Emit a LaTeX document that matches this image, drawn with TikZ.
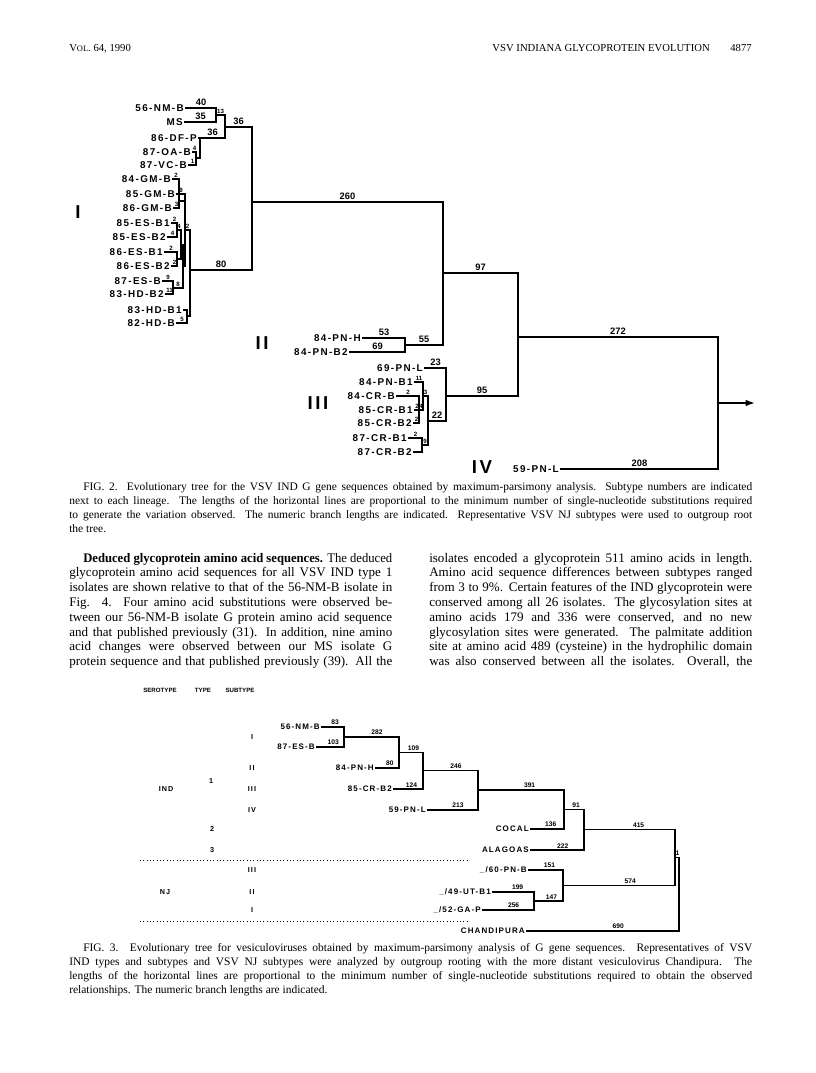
\documentclass[tikz,border=0pt]{standalone}
\usepackage{fontspec}
\usepackage{graphicx}
\setmainfont{Liberation Serif}
\newfontfamily\vsvSans[LetterSpace=14]{Liberation Sans}
\newfontfamily\vsvSansTight{Liberation Sans}
\usetikzlibrary{arrows.meta}

% one printed line of a justified column
\newsavebox\vsvLineBox
\newcommand\vsvLine[2]{%
  \sbox\vsvLineBox{#2}%
  \ifdim\wd\vsvLineBox>#1\relax
    \resizebox{#1}{\ht\vsvLineBox}{\usebox\vsvLineBox}%
  \else
    \makebox[#1][s]{#2}%
  \fi}

\tikzset{
  vsvBranch/.style={line width=1.25pt, line cap=rect},
  vsvBranchS/.style={line width=0.95pt, line cap=rect},
  vsvLeaf/.style={anchor=east, inner sep=1.5pt, font=\vsvSans\bfseries\fontsize{7.4}{8}\selectfont},
  vsvLen/.style={above, pos=.25, inner sep=1.2pt, font=\vsvSansTight\bfseries\fontsize{7}{8}\selectfont},
  vsvTiny/.style={above, pos=.25, inner sep=0.3pt, font=\vsvSansTight\bfseries\fontsize{4.6}{5}\selectfont},
  vsvRoman/.style={inner sep=0pt, font=\vsvSans\bfseries\fontsize{14}{14}\selectfont},
  vsvLeafS/.style={anchor=east, inner sep=1.5pt, font=\vsvSans\bfseries\fontsize{6}{7}\selectfont},
  vsvLenS/.style={above, pos=.3, inner sep=1pt, font=\vsvSansTight\bfseries\fontsize{5}{6}\selectfont},
  vsvKey/.style={inner sep=0pt, font=\vsvSans\bfseries\fontsize{5.4}{6}\selectfont},
  vsvKeyHead/.style={inner sep=0pt, font=\vsvSansTight\bfseries\fontsize{4.6}{5}\selectfont},
  vsvSep/.style={dotted, line width=0.5pt},
  vsvText/.style={anchor=base west, inner sep=0pt, font=\fontsize{9.8}{12}\selectfont},
  vsvCap/.style={anchor=base west, inner sep=0pt, font=\fontsize{8.6}{10}\selectfont},
  vsvHead/.style={anchor=base west, inner sep=0pt, font=\fontsize{8}{10}\selectfont}
}

\begin{document}
\begin{tikzpicture}[x=0.75pt, y=-0.75pt]
  \fill[white] (0,0) rectangle (816,1073);
  \useasboundingbox (0,0) rectangle (816,1073);

  % running head
  \node[vsvHead] (headVol) at (69,52) {V{\fontsize{6.3}{8}\selectfont OL}. 64, 1990};
  \node[vsvHead, anchor=base east] (headTitle) at (710,52) {VSV INDIANA GLYCOPROTEIN EVOLUTION};
  \node[vsvHead, anchor=base east] (headPage) at (752,52) {4877};

  % ---------------- FIG. 2 ----------------
  \node[vsvRoman] (romI) at (78,212) {I};
  \node[vsvRoman] (romII) at (262,343) {II};
  \node[vsvRoman] (romIII) at (318,403) {III};
  \node[vsvRoman] (romIV) at (482,467) {IV};

  \node[vsvLeaf] (t56nm) at (186,108) {56-NM-B};
  \node[vsvLeaf] (tms) at (185,122) {MS};
  \node[vsvLeaf] (t86df) at (199,138) {86-DF-P};
  \node[vsvLeaf] (t87oa) at (193,152) {87-OA-B};
  \node[vsvLeaf] (t87vc) at (189,165) {87-VC-B};
  \node[vsvLeaf] (t84gm) at (173,179) {84-GM-B};
  \node[vsvLeaf] (t85gm) at (177,194) {85-GM-B};
  \node[vsvLeaf] (t86gm) at (174,208) {86-GM-B};
  \node[vsvLeaf] (t85es1) at (172,223) {85-ES-B1};
  \node[vsvLeaf] (t85es2) at (168,237) {85-ES-B2};
  \node[vsvLeaf] (t86es1) at (165,252) {86-ES-B1};
  \node[vsvLeaf] (t86es2) at (172,266) {86-ES-B2};
  \node[vsvLeaf] (t87es) at (163,281) {87-ES-B};
  \node[vsvLeaf] (t83hd2) at (166,294) {83-HD-B2};
  \node[vsvLeaf] (t83hd1) at (184,310) {83-HD-B1};
  \node[vsvLeaf] (t82hd) at (177,323) {82-HD-B};
  \node[vsvLeaf] (t84pnh) at (363,338) {84-PN-H};
  \node[vsvLeaf] (t84pnb2) at (350,352) {84-PN-B2};
  \node[vsvLeaf] (t69pnl) at (425,368) {69-PN-L};
  \node[vsvLeaf] (t84pnb1) at (415,382) {84-PN-B1};
  \node[vsvLeaf] (t84crb) at (397,396) {84-CR-B};
  \node[vsvLeaf] (t85crb1) at (415,410) {85-CR-B1};
  \node[vsvLeaf] (t85crb2) at (414,423) {85-CR-B2};
  \node[vsvLeaf] (t87crb1) at (409,438) {87-CR-B1};
  \node[vsvLeaf] (t87crb2) at (414,452) {87-CR-B2};
  \node[vsvLeaf] (t59pnl) at (561,469) {59-PN-L};

  \coordinate (a1) at (216,115);
  \coordinate (a3) at (196,158);
  \coordinate (a4) at (200,138);
  \coordinate (a5) at (225,127);
  \coordinate (a6) at (252,202);
  \coordinate (g1) at (179,201);
  \coordinate (es1) at (177,230);
  \coordinate (es2) at (177,259);
  \coordinate (es3) at (181,245);
  \coordinate (es4) at (173,288);
  \coordinate (b2) at (183,266);
  \coordinate (b1) at (185,230);
  \coordinate (hd) at (187,316);
  \coordinate (b0) at (190,270);
  \coordinate (c1) at (443,273);
  \coordinate (d1) at (405,345);
  \coordinate (c2) at (518,337);
  \coordinate (f1) at (419,410);
  \coordinate (f2) at (423,396);
  \coordinate (f3) at (422,445);
  \coordinate (f4) at (428,421);
  \coordinate (e0) at (446,396);
  \coordinate (r0) at (718,403);
  \coordinate (rootTip) at (755,403);

  \foreach \a/\b/\l in {t56nm/a1/40, tms/a1/35, a4/a5/36, a5/a6/36, b0/a6/80, a6/c1/260,
      t84pnh/d1/53, t84pnb2/d1/69, d1/c1/55, c1/c2/97, t69pnl/e0/23, f4/e0/22, e0/c2/95,
      c2/r0/272, t59pnl/r0/208}
    \draw[vsvBranch] (\a) -| node[vsvLen]{\l} (\b);
  \foreach \a/\b/\l in {t86df/a4/{}, t87oa/a3/4, t87vc/a3/1, a3/a4/{}, a1/a5/13,
      t84gm/g1/2, t86gm/g1/3, g1/b1/{}, t85gm/b1/9,
      t85es1/es1/2, t85es2/es1/4, es1/es3/4, t86es1/es2/2, t86es2/es2/2, es2/es3/{},
      t87es/es4/9, t83hd2/es4/11, es3/b2/{}, es4/b2/8, b2/b1/2, b1/b0/2,
      t83hd1/hd/{}, t82hd/hd/5, hd/b0/{},
      t84crb/f1/2, t85crb1/f1/2, t85crb2/f1/2, t84pnb1/f2/11, f1/f2/4,
      t87crb1/f3/2, t87crb2/f3/{}, f2/f4/3, f3/f4/9}
    \draw[vsvBranch] (\a) -| node[vsvTiny]{\l} (\b);
  \draw[vsvBranch, -{Latex[length=7pt, width=5pt]}] (r0) -- (rootTip);

  % caption of FIG. 2
  \node[vsvCap] (capTwoA) at (83,490) {\vsvLine{501.75pt}{FIG. 2. Evolutionary tree for the VSV IND G gene sequences obtained by maximum-parsimony analysis. Subtype numbers are indicated}};
  \node[vsvCap] (capTwoB) at (69,504) {\vsvLine{512.25pt}{next to each lineage. The lengths of the horizontal lines are proportional to the minimum number of single-nucleotide substitutions required}};
  \node[vsvCap] (capTwoC) at (69,518) {\vsvLine{512.25pt}{to generate the variation observed. The numeric branch lengths are indicated. Representative VSV NJ subtypes were used to outgroup root}};
  \node[vsvCap] (capTwoD) at (69,532) {the tree.};

  % body text, two columns
  \node[vsvText] (bodyL1) at (83,562) {\vsvLine{231.75pt}{\textbf{Deduced glycoprotein amino acid sequences.} The deduced}};
  \foreach \txt [count=\i from 2] in {{glycoprotein amino acid sequences for all VSV IND type 1},
      {isolates are shown relative to that of the 56-NM-B isolate in},
      {Fig. 4. Four amino acid substitutions were observed be-},
      {tween our 56-NM-B isolate G protein amino acid sequence},
      {and that published previously (31). In addition, nine amino},
      {acid changes were observed between our MS isolate G},
      {protein sequence and that published previously (39). All the}}
    \node[vsvText] (bodyL\i) at (69,{562+14.8*(\i-1)}) {\vsvLine{242.25pt}{\txt}};
  \foreach \txt [count=\i] in {{isolates encoded a glycoprotein 511 amino acids in length.},
      {Amino acid sequence differences between subtypes ranged},
      {from 3 to 9\%. Certain features of the IND glycoprotein were},
      {conserved among all 26 isolates. The glycosylation sites at},
      {amino acids 179 and 336 were conserved, and no new},
      {glycosylation sites were generated. The palmitate addition},
      {site at amino acid 489 (cysteine) in the hydrophilic domain},
      {was also conserved between all the isolates. Overall, the}}
    \node[vsvText] (bodyR\i) at (429,{562+14.8*(\i-1)}) {\vsvLine{242.25pt}{\txt}};

  % ---------------- FIG. 3 ----------------
  \node[vsvKeyHead] (keySero) at (160,690) {SEROTYPE};
  \node[vsvKeyHead] (keyType) at (203,690) {TYPE};
  \node[vsvKeyHead] (keySub) at (240,690) {SUBTYPE};
  \node[vsvKey] (keyIND) at (166,789) {IND};
  \node[vsvKey] (keyNJ) at (165,892) {NJ};
  \node[vsvKey] (keyT1) at (211,781) {1};
  \node[vsvKey] (keyT2) at (212,829) {2};
  \node[vsvKey] (keyT3) at (212,850) {3};
  \foreach \y/\s in {737/I, 768/II, 789/III, 810/IV, 870/III, 892/II, 910/I}
    \node[vsvKey] (keySub\y) at (252,\y) {\s};

  \coordinate (sepA1) at (140,860);
  \coordinate (sepA2) at (470,860);
  \coordinate (sepB1) at (140,921);
  \coordinate (sepB2) at (470,921);
  \draw[vsvSep] (sepA1) -- (sepA2);
  \draw[vsvSep] (sepB1) -- (sepB2);

  \node[vsvLeafS] (s56nm) at (322,727) {56-NM-B};
  \node[vsvLeafS] (s87es) at (317,747) {87-ES-B};
  \node[vsvLeafS] (s84pnh) at (376,768) {84-PN-H};
  \node[vsvLeafS] (s85crb2) at (394,789) {85-CR-B2};
  \node[vsvLeafS] (s59pnl) at (428,810) {59-PN-L};
  \node[vsvLeafS] (scocal) at (531,829) {COCAL};
  \node[vsvLeafS] (salagoas) at (531,850) {ALAGOAS};
  \node[vsvLeafS] (s60pnb) at (529,870) {\_/60-PN-B};
  \node[vsvLeafS] (s49utb1) at (493,892) {\_/49-UT-B1};
  \node[vsvLeafS] (s52gap) at (483,910) {\_/52-GA-P};
  \node[vsvLeafS] (schandi) at (527,931) {CHANDIPURA};

  \coordinate (m1) at (344,737);
  \coordinate (m2) at (399,752.5);
  \coordinate (m3) at (423,770.5);
  \coordinate (m4) at (478,790);
  \coordinate (m5) at (564,809.5);
  \coordinate (m6) at (584,829.5);
  \coordinate (m7) at (534,901);
  \coordinate (m8) at (563,885.5);
  \coordinate (m9) at (675,857.5);
  \coordinate (mroot) at (679,894);

  \foreach \a/\b/\l in {s56nm/m1/83, s87es/m1/103, m1/m2/282, s84pnh/m2/80, m2/m3/109,
      s85crb2/m3/124, m3/m4/246, s59pnl/m4/213, m4/m5/391, scocal/m5/136, m5/m6/91,
      salagoas/m6/222, m6/m9/415, s60pnb/m8/151, s49utb1/m7/199, s52gap/m7/256,
      m7/m8/147, m8/m9/574, m9/mroot/1, schandi/mroot/690}
    \draw[vsvBranchS] (\a) -| node[vsvLenS]{\l} (\b);

  % caption of FIG. 3
  \node[vsvCap] (capThreeA) at (83,951) {\vsvLine{501.75pt}{FIG. 3. Evolutionary tree for vesiculoviruses obtained by maximum-parsimony analysis of G gene sequences. Representatives of VSV}};
  \node[vsvCap] (capThreeB) at (69,965) {\vsvLine{512.25pt}{IND types and subtypes and VSV NJ subtypes were analyzed by outgroup rooting with the more distant vesiculovirus Chandipura. The}};
  \node[vsvCap] (capThreeC) at (69,979) {\vsvLine{512.25pt}{lengths of the horizontal lines are proportional to the minimum number of single-nucleotide substitutions required to obtain the observed}};
  \node[vsvCap] (capThreeD) at (69,993) {relationships. The numeric branch lengths are indicated.};
\end{tikzpicture}
\end{document}
